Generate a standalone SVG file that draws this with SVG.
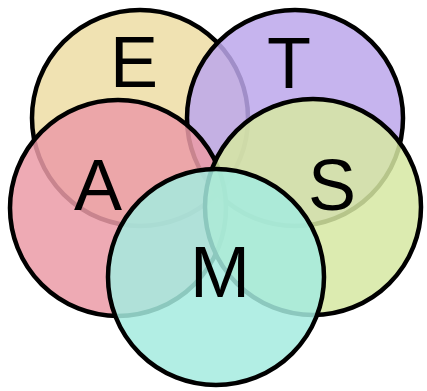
<svg xmlns="http://www.w3.org/2000/svg" width="427" height="391" viewBox="0 0 427 391">
<style>
.c{stroke:#000;stroke-width:4.5;fill-opacity:0.85}
.t{font-family:"Liberation Sans",Arial,sans-serif;font-size:72px;fill:#000;text-anchor:middle}
</style>
<rect width="427" height="391" fill="#fff"/>
<g id="E"><circle class="c" cx="140" cy="118" r="108" fill="#eddda4"/><text class="t" x="134" y="87">E</text></g>
<g id="T"><circle class="c" cx="295" cy="118" r="108" fill="#bca7eb"/><text class="t" x="289" y="88">T</text></g>
<g id="A"><circle class="c" cx="118" cy="208" r="108" fill="#eb9ba7"/><text class="t" x="98" y="210">A</text></g>
<g id="S"><circle class="c" cx="313" cy="207" r="108" fill="#d6e7a2"/><text class="t" x="332" y="210">S</text></g>
<g id="M"><circle class="c" cx="216" cy="277" r="108" fill="#a4ebdf"/><text class="t" x="220" y="297">M</text></g>
<g id="connectors"/>
</svg>
